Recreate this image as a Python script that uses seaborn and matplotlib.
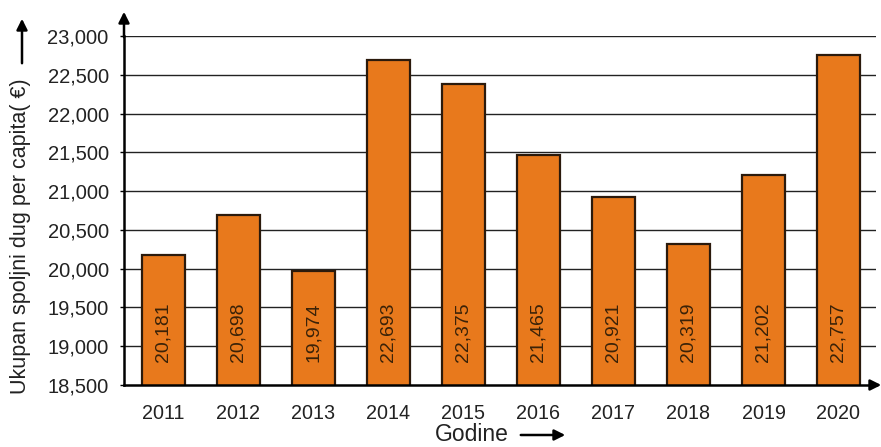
import matplotlib
matplotlib.use("Agg")
import matplotlib.pyplot as plt
from matplotlib.patches import FancyArrowPatch
import seaborn as sns
import pandas as pd

years = ["2011", "2012", "2013", "2014", "2015", "2016", "2017", "2018", "2019", "2020"]
debt = [20181, 20698, 19974, 22693, 22375, 21465, 20921, 20319, 21202, 22757]
y_ticks = [18500, 19000, 19500, 20000, 20500, 21000, 21500, 22000, 22500, 23000]

sns.set_theme(style="white")
plt.rcParams["font.family"] = ["Liberation Sans", "DejaVu Sans"]

W, H = 881, 447
fig = plt.figure(figsize=(W / 100, H / 100), dpi=100)
ax = fig.add_axes([124 / W, 1 - 385 / H, (876 - 124) / W, (385 - 36) / H])

df = pd.DataFrame({"year": years, "debt": debt})
sns.barplot(data=df, x="year", y="debt", color="#E8791C", saturation=1,
            width=0.575, edgecolor="#2b1a0c", linewidth=1.6, ax=ax, zorder=3)

ax.set_ylim(18500, 23000)
ax.set_xlim(-0.525, 9.5)
ax.set_yticks(y_ticks)
ax.set_yticklabels([f"{v:,}" for v in y_ticks])
for v in y_ticks[1:]:
    ax.axhline(v, color="#222222", lw=1.0, zorder=1)

for s in ["top", "right"]:
    ax.spines[s].set_visible(False)
for s in ["left", "bottom"]:
    ax.spines[s].set_color("black")
    ax.spines[s].set_linewidth(1.8)
    ax.spines[s].set_zorder(5)

ax.tick_params(axis="y", which="both", left=True, length=3, width=1, color="black",
               labelsize=14.5, pad=8, labelcolor="#222222")
ax.tick_params(axis="x", bottom=False, labelsize=14.2, pad=8, labelcolor="#222222")
ax.set_xlabel("")
ax.set_ylabel("")

# value labels inside the bars, rotated
for i, v in enumerate(debt):
    ax.text(i, 18500 + 300, f"{v:,}", rotation=90, ha="center", va="bottom",
            fontsize=14, color="#3a2208", zorder=6)

# axis arrows
fig.add_artist(FancyArrowPatch((124 / W, 1 - 40 / H), (124 / W, 1 - 9 / H),
                               transform=fig.transFigure, arrowstyle="-|>",
                               mutation_scale=16, color="black", lw=1.8))
fig.add_artist(FancyArrowPatch((868 / W, 1 - 385 / H), (884 / W, 1 - 385 / H),
                               transform=fig.transFigure, arrowstyle="-|>",
                               mutation_scale=16, color="black", lw=1.8))

# axis titles with arrows
fig.text(21 / W, 1 - 236 / H, "Ukupan spoljni dug per capita( €)", rotation=90,
         ha="center", va="center", fontsize=15.5, color="#222222")
fig.text(472 / W, 1 - 441 / H, "Godine", ha="center", va="baseline",
         fontsize=16.5, color="#222222")
fig.add_artist(FancyArrowPatch((22 / W, 1 - 66 / H), (22 / W, 1 - 16 / H),
                               transform=fig.transFigure, arrowstyle="-|>",
                               mutation_scale=16, color="black", lw=1.8))
fig.add_artist(FancyArrowPatch((518 / W, 1 - 435 / H), (568 / W, 1 - 435 / H),
                               transform=fig.transFigure, arrowstyle="-|>",
                               mutation_scale=16, color="black", lw=1.8))

fig.savefig("out.png", dpi=100, facecolor="white")
